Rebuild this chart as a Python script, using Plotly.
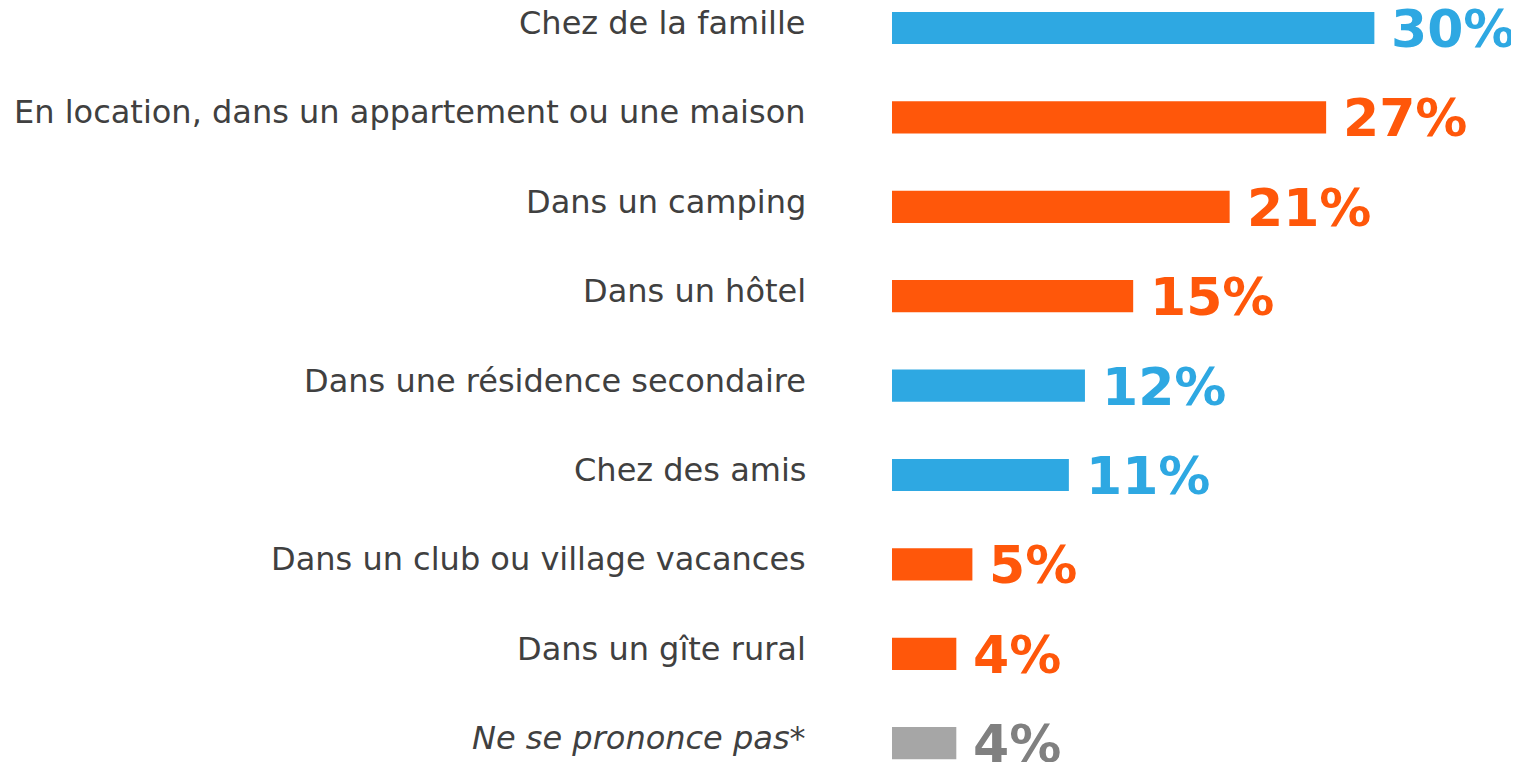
import plotly.graph_objects as go

categories = [
    "Chez de la famille",
    "En location, dans un appartement ou une maison",
    "Dans un camping",
    "Dans un hôtel",
    "Dans une résidence secondaire",
    "Chez des amis",
    "Dans un club ou village vacances",
    "Dans un gîte rural",
    "<i>Ne se prononce pas*</i>",
]
values = [30, 27, 21, 15, 12, 11, 5, 4, 4]
bar_colors = ["#2EA8E2", "#FF570A", "#FF570A", "#FF570A", "#2EA8E2", "#2EA8E2", "#FF570A", "#FF570A", "#A6A6A6"]
text_colors = ["#2EA8E2", "#FF570A", "#FF570A", "#FF570A", "#2EA8E2", "#2EA8E2", "#FF570A", "#FF570A", "#808080"]
labels = [f"{v}%" for v in values]

pos = list(range(len(categories)))

fig = go.Figure()
fig.add_trace(go.Bar(
    x=values, y=pos, orientation="h",
    marker=dict(color=bar_colors, line=dict(width=0)),
    width=0.36, hoverinfo="skip",
))

for p, v, t, c in zip(pos, values, labels, text_colors):
    fig.add_annotation(
        x=v, y=p, text=t, showarrow=False, xanchor="left", yanchor="middle",
        xshift=15, yshift=-1,
        font=dict(family="DejaVu Sans", size=52, color=c, weight="bold"),
    )

for p, cat in zip(pos, categories):
    fig.add_annotation(
        x=0, y=p, text=cat, showarrow=False, xanchor="right", yanchor="middle",
        xshift=-84, yshift=5,
        font=dict(family="DejaVu Sans", size=32, color="#404040"),
    )

fig.update_layout(
    width=1519, height=762,
    margin=dict(l=884, r=24, t=0, b=0),
    paper_bgcolor="white", plot_bgcolor="white",
    showlegend=False,
    xaxis=dict(range=[0, 38], visible=False, fixedrange=True),
    yaxis=dict(range=[8.30, -0.224], visible=False, fixedrange=True),
)

fig.write_html("out.html")
